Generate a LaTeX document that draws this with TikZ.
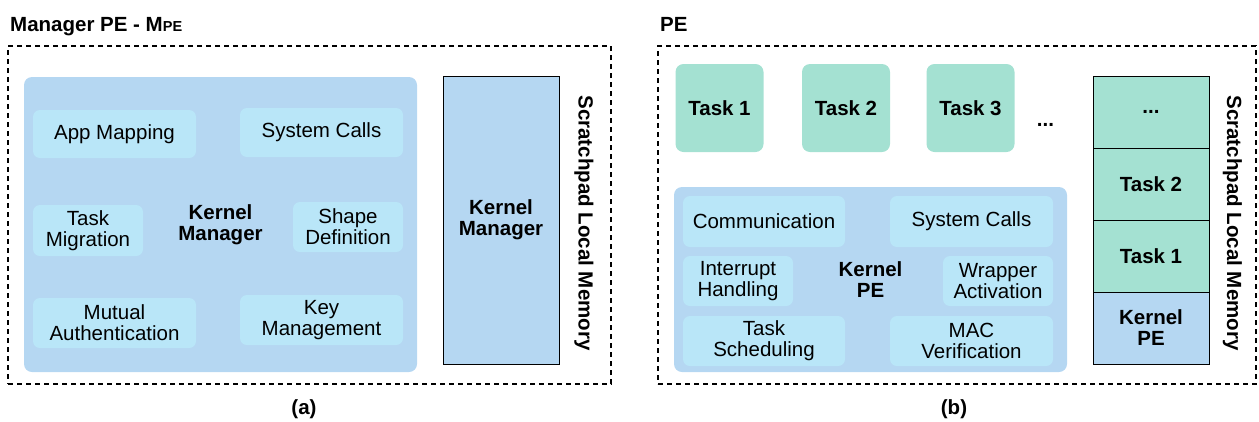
\documentclass[tikz,border=0pt]{standalone}
\usepackage{fontspec}
\setmainfont{Liberation Sans}
\usetikzlibrary{positioning}
\definecolor{kblue}{HTML}{B5D7F2}
\definecolor{fblue}{HTML}{B9E6F8}
\definecolor{tgreen}{HTML}{A4E1D2}
\tikzset{panel/.style={draw,dash pattern=on 5pt off 4pt,line width=1.3pt,inner sep=0pt},
kernelbg/.style={fill=kblue,rounded corners=8pt,align=center,font=\bfseries,inner sep=0pt},
func/.style={fill=fblue,rounded corners=7pt,align=center,inner sep=0pt},
task/.style={fill=tgreen,rounded corners=8pt,font=\bfseries,inner sep=0pt,minimum width=88,minimum height=88},
memcell/.style={draw,line width=1pt,outer sep=0pt,inner sep=0pt,align=center,font=\bfseries,minimum width=116,minimum height=72},
spm/.style={rotate=-90,font=\bfseries,inner sep=0pt}}

\begin{document}
\fontsize{20.5}{21}\selectfont
\begin{tikzpicture}[x=1pt,y=-1pt]
\useasboundingbox (0,0) rectangle (1259,421);
\node[anchor=base west,inner sep=0pt,font=\bfseries] (titlea) at (10,31) {Manager PE - M{\fontsize{14.5}{15}\selectfont PE}};
\node[panel,minimum width=603,minimum height=338] (mpe) at (309.5,215) {};
\node[kernelbg,minimum width=393,minimum height=295] (kman) at (220.5,224.5) {Kernel\\Manager};
\node[func,minimum width=163,minimum height=48] (appmap) at (114.5,134) {App Mapping};
\node[func,minimum width=163,minimum height=49] (sysa) at (321.5,132.5) {System Calls};
\node[func,minimum width=110,minimum height=51] (taskmig) at (88,230.5) {Task\\Migration};
\node[func,minimum width=110,minimum height=50] (shapedef) at (348,227) {Shape\\Definition};
\node[func,minimum width=163,minimum height=50] (mutauth) at (114.5,323) {Mutual\\Authentication};
\node[func,minimum width=163,minimum height=50] (keymgmt) at (321.5,320) {Key\\Management};
\node[draw,line width=1pt,fill=kblue,align=center,font=\bfseries,minimum width=116,minimum height=288] (kmbox) at (501,220) {Kernel\\Manager};
\node[spm] (spma) at (584,223) {Scratchpad Local Memory};
\node[font=\bfseries] (capa) at (304,409) {(a)};

\node[anchor=base west,inner sep=0pt,font=\bfseries] (titleb) at (660,31) {PE};
\node[panel,minimum width=598,minimum height=338] (pe) at (957,215) {};
\node[task] (task1) at (719.5,108) {Task 1};
\node[task] (task2) at (846,108) {Task 2};
\node[task] (task3) at (970.5,108) {Task 3};
\node[anchor=base,inner sep=0pt,font=\bfseries] (dots) at (1045.5,126) {...};
\node[kernelbg,minimum width=393,minimum height=185] (kpe) at (870.5,279.5) {Kernel\\PE};
\node[func,minimum width=162,minimum height=51] (comm) at (764,221.5) {Communication};
\node[func,minimum width=163,minimum height=51] (sysb) at (971.5,221.5) {System Calls};
\node[func,minimum width=110,minimum height=50] (irq) at (738,281) {Interrupt\\Handling};
\node[func,minimum width=110,minimum height=50] (wrap) at (998,281) {Wrapper\\Activation};
\node[func,minimum width=162,minimum height=50] (sched) at (764,341) {Task\\Scheduling};
\node[func,minimum width=163,minimum height=50] (macver) at (971.5,341) {MAC\\Verification};
\node[memcell,fill=tgreen] (cellmore) at (1151,112) {...};
\node[memcell,fill=tgreen,below=0pt of cellmore] (celltwo) {Task 2};
\node[memcell,fill=tgreen,below=0pt of celltwo] (cellone) {Task 1};
\node[memcell,fill=kblue,below=0pt of cellone] (cellkpe) {Kernel\\PE};
\node[spm] (spmb) at (1232.5,223) {Scratchpad Local Memory};
\node[font=\bfseries] (capb) at (954,409) {(b)};
\end{tikzpicture}
\end{document}
